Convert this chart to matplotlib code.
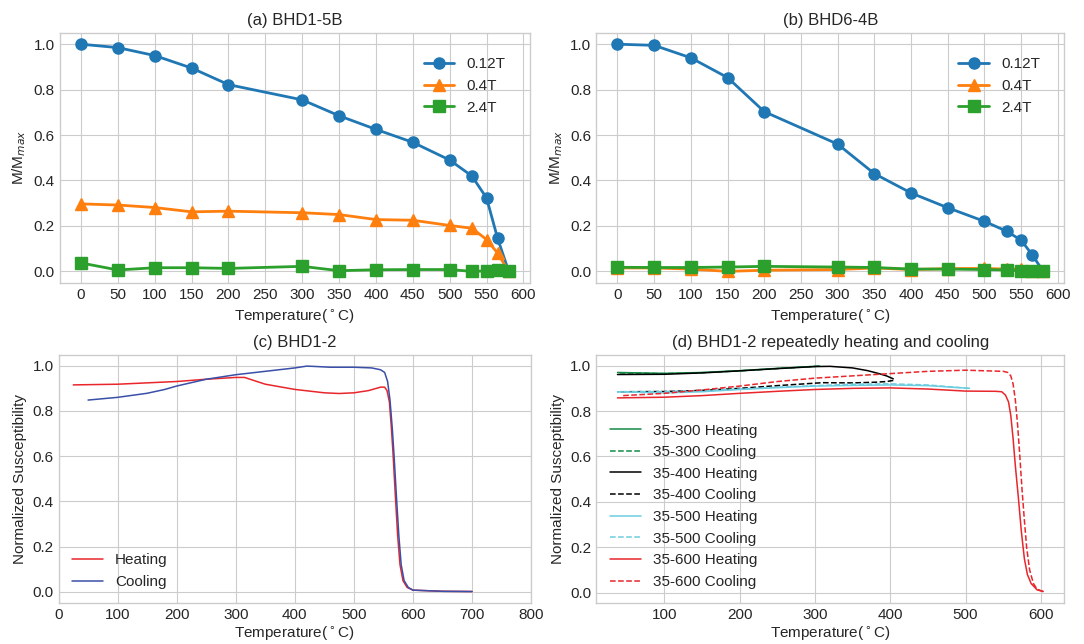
import matplotlib.pyplot as plt

plt.style.use('seaborn-v0_8-whitegrid')
plt.rcParams['font.family'] = ['Liberation Sans', 'DejaVu Sans']

# Temperatures of the thermal demagnetisation steps
temps = [0, 50, 100, 150, 200, 300, 350, 400, 450, 500, 530, 550, 565, 580]

# (a) BHD1-5B
a_012 = [1.0, 0.985, 0.95, 0.895, 0.822, 0.755, 0.685, 0.625, 0.568, 0.49, 0.42, 0.323, 0.145, 0.0]
a_04 = [0.297, 0.292, 0.281, 0.262, 0.265, 0.258, 0.25, 0.228, 0.225, 0.202, 0.19, 0.14, 0.08, 0.0]
a_24 = [0.037, 0.006, 0.016, 0.016, 0.013, 0.022, 0.003, 0.007, 0.008, 0.008, 0.0, 0.002, 0.005, 0.0]

# (b) BHD6-4B
b_012 = [1.0, 0.995, 0.94, 0.853, 0.703, 0.56, 0.43, 0.345, 0.28, 0.22, 0.177, 0.137, 0.073, 0.0]
b_04 = [0.015, 0.015, 0.01, 0.0, 0.005, 0.008, 0.015, 0.008, 0.012, 0.013, 0.01, 0.01, 0.0, 0.0]
b_24 = [0.018, 0.017, 0.017, 0.019, 0.022, 0.019, 0.017, 0.01, 0.01, 0.008, 0.006, 0.002, 0.0, 0.0]

field_labels = ['0.12T', '0.4T', '2.4T']

# (c) BHD1-2 susceptibility vs temperature
c_heat_t = [25, 100, 200, 250, 300, 315, 330, 350, 400, 450, 475, 500, 525, 545, 552,
            556, 560, 563, 566, 570, 574, 578, 583, 590, 600, 650, 700]
c_heat_k = [0.915, 0.918, 0.93, 0.94, 0.948, 0.948, 0.935, 0.918, 0.895, 0.88, 0.877, 0.88,
            0.89, 0.905, 0.905, 0.89, 0.84, 0.74, 0.62, 0.43, 0.25, 0.12, 0.05, 0.02, 0.008, 0.003, 0.002]
c_cool_t = [50, 100, 150, 180, 200, 250, 300, 350, 400, 420, 430, 460, 500, 530, 545, 552,
            557, 561, 565, 568, 572, 576, 580, 585, 592, 600, 650, 700]
c_cool_k = [0.848, 0.86, 0.878, 0.895, 0.91, 0.94, 0.96, 0.975, 0.99, 0.998, 0.997, 0.993,
            0.993, 0.99, 0.982, 0.97, 0.93, 0.85, 0.72, 0.6, 0.42, 0.25, 0.12, 0.05, 0.02, 0.008, 0.003, 0.002]

# (d) BHD1-2 repeated heating/cooling cycles
d300_heat_t = [38, 100, 150, 200, 250, 306]
d300_heat_k = [0.97, 0.966, 0.97, 0.978, 0.988, 0.998]
d300_cool_t = [306, 250, 200, 150, 100, 38]
d300_cool_k = [0.998, 0.987, 0.977, 0.969, 0.965, 0.968]

d400_heat_t = [38, 100, 150, 200, 250, 300, 320, 350, 370, 385, 395, 404]
d400_heat_k = [0.961, 0.962, 0.968, 0.977, 0.987, 0.996, 0.997, 0.99, 0.978, 0.965, 0.955, 0.942]
d400_cool_t = [404, 395, 380, 350, 310, 250, 200, 150, 100, 38]
d400_cool_k = [0.935, 0.93, 0.927, 0.924, 0.925, 0.912, 0.9, 0.891, 0.886, 0.885]

d500_heat_t = [38, 100, 150, 200, 250, 300, 350, 400, 450, 505]
d500_heat_k = [0.885, 0.88, 0.885, 0.895, 0.903, 0.91, 0.913, 0.915, 0.912, 0.9]
d500_cool_t = [505, 450, 400, 350, 300, 250, 200, 150, 100, 38]
d500_cool_k = [0.9, 0.915, 0.92, 0.918, 0.912, 0.905, 0.897, 0.89, 0.886, 0.885]

d600_heat_t = [38, 100, 150, 200, 250, 300, 350, 400, 450, 500, 540, 548, 553, 557, 560,
               563, 566, 570, 574, 578, 582, 587, 595, 603]
d600_heat_k = [0.858, 0.861, 0.868, 0.878, 0.887, 0.895, 0.9, 0.902, 0.897, 0.888, 0.887, 0.885,
               0.87, 0.84, 0.78, 0.68, 0.56, 0.42, 0.27, 0.15, 0.08, 0.04, 0.012, 0.005]
d600_cool_t = [603, 595, 590, 585, 581, 578, 575, 572, 569, 566, 563, 560, 556, 550, 540,
               500, 450, 400, 350, 300, 250, 200, 150, 100, 45]
d600_cool_k = [0.005, 0.015, 0.04, 0.1, 0.2, 0.32, 0.45, 0.6, 0.74, 0.85, 0.92, 0.955, 0.97,
               0.975, 0.976, 0.98, 0.975, 0.965, 0.955, 0.945, 0.93, 0.91, 0.893, 0.878, 0.868]

fig = plt.figure(figsize=(10.84, 6.44), dpi=100)
ax_a = fig.add_axes([0.055, 0.561, 0.434, 0.388])
ax_b = fig.add_axes([0.550, 0.561, 0.432, 0.388])
ax_c = fig.add_axes([0.054, 0.064, 0.436, 0.385])
ax_d = fig.add_axes([0.550, 0.064, 0.432, 0.385])

markers = ['o', '^', 's']
xlabel = r'Temperature($^\circ$C)'

for ax, series, title in [(ax_a, [a_012, a_04, a_24], '(a) BHD1-5B'),
                          (ax_b, [b_012, b_04, b_24], '(b) BHD6-4B')]:
    for vals, m, lab in zip(series, markers, field_labels):
        ax.plot(temps, vals, marker=m, markersize=8, linewidth=2, label=lab)
    ax.set_xticks(range(0, 601, 50))
    ax.set_title(title, fontsize=12)
    ax.set_xlabel(xlabel, fontsize=11)
    ax.set_ylabel(r'M/M$_{max}$', fontsize=11)
    ax.tick_params(labelsize=11)
    ax.legend(loc='upper right', fontsize=11, borderaxespad=1.2)

# (c)
ax_c.plot(c_heat_t, c_heat_k, color='#e8262b', linewidth=1.1, label='Heating')
ax_c.plot(c_cool_t, c_cool_k, color='#3a4fa8', linewidth=1.1, label='Cooling')
ax_c.set_xlim(0, 800)
ax_c.set_title('(c) BHD1-2', fontsize=12)
ax_c.set_xlabel(xlabel, fontsize=11, labelpad=2)
ax_c.set_ylabel('Normalized Susceptibility', fontsize=11)
ax_c.tick_params(labelsize=11)
ax_c.legend(loc='lower left', fontsize=11)

# (d)
cycles = [(d300_heat_t, d300_heat_k, d300_cool_t, d300_cool_k, '#138a45', '35-300'),
          (d400_heat_t, d400_heat_k, d400_cool_t, d400_cool_k, 'black', '35-400'),
          (d500_heat_t, d500_heat_k, d500_cool_t, d500_cool_k, '#6ccde0', '35-500'),
          (d600_heat_t, d600_heat_k, d600_cool_t, d600_cool_k, '#e8262b', '35-600')]
for ht, hk, ct, ck, col, name in cycles:
    ax_d.plot(ht, hk, color=col, linewidth=1.1, label=name + ' Heating')
    ax_d.plot(ct, ck, color=col, linewidth=1.1, linestyle='--', label=name + ' Cooling')
ax_d.set_title('(d) BHD1-2 repeatedly heating and cooling', fontsize=12)
ax_d.set_xlabel(xlabel, fontsize=11, labelpad=2)
ax_d.set_ylabel('Normalized Susceptibility', fontsize=11)
ax_d.tick_params(labelsize=11)
ax_d.legend(loc='lower left', fontsize=11)

plt.savefig('out.png', dpi=100)
